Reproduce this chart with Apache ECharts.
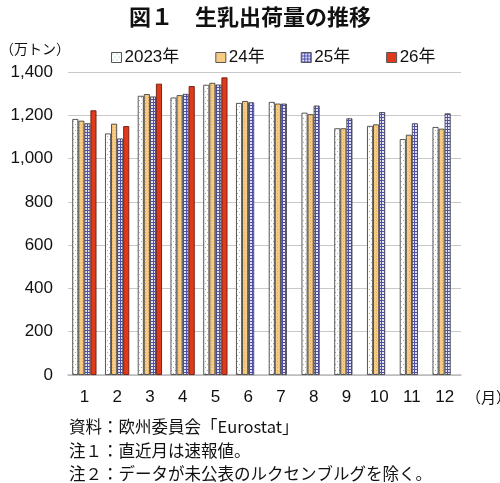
<!DOCTYPE html>
<html lang="ja">
<head>
    <meta charset="UTF-8">
    <title>生乳出荷量の推移</title>
    <script src="https://cdn.jsdelivr.net/npm/echarts@6/dist/echarts.min.js"></script>
    <style>
        html, body { margin: 0; padding: 0; background: #fff; }
        #main { width: 500px; height: 483px; }
    </style>
</head>
<body>
<div id="main"></div>
<script>
    // 月
    var months = ['1', '2', '3', '4', '5', '6', '7', '8', '9', '10', '11', '12'];
    var yTicks = [0, 200, 400, 600, 800, 1000, 1200, 1400];
    // 生乳出荷量（万トン）
    var y2023 = [1183, 1116, 1290, 1282, 1341, 1257, 1262, 1212, 1140, 1151, 1090, 1146];
    var y2024 = [1175, 1161, 1298, 1293, 1350, 1266, 1254, 1205, 1140, 1158, 1110, 1138];
    var y2025 = [1163, 1093, 1287, 1299, 1342, 1260, 1254, 1245, 1186, 1215, 1163, 1209];
    var y2026 = [1223, 1150, 1346, 1335, 1375, null, null, null, null, null, null, null];
    var names = ['2023年', '24年', '25年', '26年'];

    var jp = '"Noto Sans CJK JP", sans-serif';
    var num = '"Liberation Sans", "Noto Sans CJK JP", sans-serif';

    // 模様（塗りつぶしパターン）
    function makePattern(kind) {
        var c = document.createElement('canvas');
        var ctx = c.getContext('2d');
        if (kind == 'dot') {
            c.width = 4; c.height = 6;
            ctx.fillStyle = '#ffffff';
            ctx.fillRect(0, 0, 4, 6);
            ctx.fillStyle = '#7fc2bc';
            ctx.fillRect(1, 1, 1, 1);
            ctx.fillRect(3, 4, 1, 1);
        } else if (kind == 'orange') {
            c.width = 3; c.height = 3;
            ctx.fillStyle = '#f8cb85';
            ctx.fillRect(0, 0, 3, 3);
            ctx.fillStyle = '#e6ad5c';
            ctx.fillRect(1, 1, 1, 1);
        } else if (kind == 'grid') {
            c.width = 3; c.height = 3;
            ctx.fillStyle = '#e4e4f8';
            ctx.fillRect(0, 0, 3, 3);
            ctx.fillStyle = '#4f4fae';
            ctx.fillRect(0, 0, 3, 1);
            ctx.fillRect(0, 0, 1, 3);
        }
        return { image: c, repeat: 'repeat' };
    }

    var styles = [
        { color: makePattern('dot'), borderColor: '#444', borderWidth: 0.9 },
        { color: makePattern('orange'), borderColor: '#444', borderWidth: 0.9 },
        { color: makePattern('grid'), borderColor: '#444', borderWidth: 0.9 },
        { color: '#e03a1c', borderColor: '#6a1a0c', borderWidth: 0.9 }
    ];
    var legendColors = [makePattern('dot'), '#f8cb85', makePattern('grid'), '#e03a1c'];

    var dataList = [y2023, y2024, y2025, y2026];
    var series = [];
    for (var i = 0; i < dataList.length; i++) {
        series.push({
            name: names[i],
            type: 'bar',
            data: dataList[i],
            barGap: '0%',
            barCategoryGap: '26%',
            itemStyle: styles[i]
        });
    }

    function note(text, x, y, size) {
        return {
            type: 'text', x: x, y: y,
            style: { text: text, font: size + 'px ' + jp, fill: '#111', verticalAlign: 'middle' }
        };
    }

    var myChart = echarts.init(document.getElementById('main'));
    myChart.setOption({
        animation: false,
        title: {
            text: '図１　生乳出荷量の推移',
            left: 'center',
            top: 1,
            textStyle: { fontFamily: jp, fontSize: 22, fontWeight: 'bold', color: '#111' }
        },
        legend: {
            data: names.map(function (n, k) {
                return { name: n, itemStyle: { color: legendColors[k], borderColor: '#555', borderWidth: 1 } };
            }),
            top: 44,
            left: 106,
            itemWidth: 10,
            itemHeight: 10,
            itemGap: 36,
            icon: 'rect',
            textStyle: { fontFamily: num, fontSize: 17, color: '#111', padding: [0, 0, 0, -2] }
        },
        grid: { left: 68, right: 39, top: 72, bottom: 108 },
        xAxis: {
            type: 'category',
            data: months,
            axisTick: { show: false },
            axisLine: { lineStyle: { color: '#bbb', width: 1.5 } },
            axisLabel: { fontFamily: num, fontSize: 17, color: '#111', margin: 14 }
        },
        yAxis: {
            type: 'value',
            min: yTicks[0],
            max: yTicks[yTicks.length - 1],
            interval: 200,
            axisLine: { show: false },
            axisTick: { show: false },
            splitLine: { lineStyle: { color: '#c8c8c8', width: 1.2 } },
            axisLabel: {
                fontFamily: num, fontSize: 17, color: '#111', margin: 15,
                formatter: function (v) { return v.toLocaleString('en-US'); }
            }
        },
        graphic: [
            note('（万トン）', 0, 49, 14),
            note('（月）', 466, 397, 15),
            note('資料：欧州委員会「Eurostat」', 69, 427, 16.5),
            note('注１：直近月は速報値。', 69, 451, 16.5),
            note('注２：データが未公表のルクセンブルグを除く。', 69, 474, 16.5)
        ],
        series: series
    });
</script>
</body>
</html>
